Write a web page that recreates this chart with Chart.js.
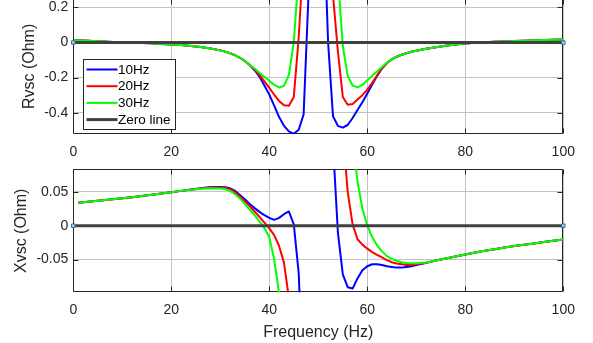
<!DOCTYPE html>
<html><head><meta charset="utf-8">
<script src="https://cdn.jsdelivr.net/npm/chart.js@4.4.1/dist/chart.umd.min.js"></script>
<style>
html,body{margin:0;padding:0;background:#fff;width:593px;height:343px;overflow:hidden;position:relative}
#c1{position:absolute;left:0;top:-10px;width:593px;height:175px}
#c2{position:absolute;left:0;top:160px;width:593px;height:183px}
</style></head><body>
<canvas id="c1" width="593" height="175"></canvas>
<canvas id="c2" width="593" height="183"></canvas>
<script>
// ---------- data ----------
const xTicks = [0, 20, 40, 60, 80, 100];
const rTicks = [-0.4, -0.2, 0, 0.2];
const rTickLabels = ['-0.4', '-0.2', '0', '0.2'];
const xvTicks = [-0.05, 0, 0.05];
const xvTickLabels = ['-0.05', '0', '0.05'];
const seriesNames = ['10Hz', '20Hz', '30Hz'];
const zeroName = 'Zero line';

const freqR = [0,2,4,6,8,10,12,14,16,18,20,22,24,26,28,30,
  31,32,33,34,35,36,37,38,39,40,41,42,43,44,45,46,47,48,49,50,
  51,52,53,54,55,56,57,58,59,60,61,62,63,64,65,66,67,68,69,
  70,72,74,76,78,80,82,84,86,88,90,92,94,96,98,100];

const rvsc10 = [0.013,0.011,0.009,0.006,0.003,0.001,-0.001,-0.003,-0.005,-0.008,-0.011,-0.015,-0.020,-0.026,-0.034,-0.045,
  -0.052,-0.061,-0.072,-0.087,-0.105,-0.128,-0.158,-0.195,-0.245,-0.297,-0.36,-0.425,-0.475,-0.506,-0.52,-0.497,-0.41,0.27,2.0,3.0,
  0.8,0.0,-0.42,-0.475,-0.485,-0.47,-0.43,-0.385,-0.34,-0.29,-0.24,-0.19,-0.148,-0.117,-0.096,-0.081,-0.07,-0.061,-0.053,
  -0.047,-0.036,-0.027,-0.019,-0.012,-0.006,-0.002,0.001,0.004,0.006,0.008,0.010,0.012,0.014,0.015,0.017];

const rvsc20 = [0.013,0.011,0.009,0.006,0.003,0.001,-0.001,-0.003,-0.005,-0.008,-0.011,-0.015,-0.020,-0.026,-0.034,-0.045,
  -0.052,-0.061,-0.072,-0.087,-0.105,-0.128,-0.153,-0.185,-0.222,-0.258,-0.298,-0.333,-0.357,-0.36,-0.31,0.03,0.5,1.5,2.5,2.8,
  2.0,1.0,0.27,-0.05,-0.31,-0.355,-0.35,-0.325,-0.30,-0.268,-0.23,-0.188,-0.147,-0.117,-0.096,-0.081,-0.07,-0.061,-0.053,
  -0.047,-0.036,-0.027,-0.019,-0.012,-0.006,-0.002,0.001,0.004,0.006,0.008,0.010,0.012,0.014,0.015,0.017];

const rvsc30 = [0.013,0.011,0.009,0.006,0.003,0.001,-0.001,-0.003,-0.005,-0.008,-0.011,-0.015,-0.020,-0.026,-0.034,-0.045,
  -0.052,-0.061,-0.072,-0.087,-0.105,-0.128,-0.148,-0.172,-0.196,-0.218,-0.242,-0.256,-0.247,-0.185,0.0,0.4,1.2,2.0,2.5,2.6,
  2.2,1.6,1.0,0.38,-0.02,-0.19,-0.245,-0.256,-0.242,-0.215,-0.19,-0.165,-0.14,-0.115,-0.096,-0.081,-0.07,-0.061,-0.053,
  -0.047,-0.036,-0.027,-0.019,-0.012,-0.006,-0.002,0.001,0.004,0.006,0.008,0.010,0.012,0.014,0.015,0.017];

const freqX = [1,2,4,6,8,10,12,14,16,18,20,22,24,26,28,30,
  31,32,33,34,35,36,37,38,39,40,41,42,43,44,45,46,47,48,49,50,
  51,52,53,54,55,56,57,58,59,60,61,62,63,64,65,66,67,68,69,
  70,72,74,76,78,80,82,84,86,88,90,92,94,96,98,100];

const xvsc10 = [0.034,0.0347,0.036,0.0375,0.039,0.0405,0.042,0.0438,0.0456,0.0475,0.0495,0.0515,0.0535,0.0555,0.0572,0.0572,
  0.0568,0.0553,0.0515,0.0455,0.039,0.032,0.026,0.0205,0.0155,0.0115,0.0087,0.0115,0.017,0.021,0.002,-0.07,-0.25,null,null,null,
  null,0.3,0.12,-0.01,-0.072,-0.091,-0.093,-0.078,-0.066,-0.06,-0.057,-0.057,-0.058,-0.06,-0.061,-0.062,-0.062,-0.061,-0.06,
  -0.058,-0.055,-0.0515,-0.0485,-0.0455,-0.0425,-0.0398,-0.0372,-0.0347,-0.0323,-0.030,-0.0281,-0.0262,-0.0242,-0.0222,-0.0203];

const xvsc20 = [0.034,0.0347,0.036,0.0375,0.039,0.0405,0.042,0.0438,0.0456,0.0475,0.0495,0.0515,0.0533,0.055,0.0565,0.0563,
  0.0557,0.054,0.0495,0.0432,0.0362,0.029,0.021,0.013,0.0045,-0.004,-0.014,-0.030,-0.055,-0.107,-0.2,-0.5,null,null,null,null,
  null,null,0.6,0.3,0.14,0.05,0.002,-0.02,-0.028,-0.034,-0.039,-0.043,-0.047,-0.051,-0.054,-0.056,-0.057,-0.058,-0.058,
  -0.057,-0.055,-0.0515,-0.0485,-0.0455,-0.0425,-0.0398,-0.0372,-0.0347,-0.0323,-0.030,-0.0281,-0.0262,-0.0242,-0.0222,-0.0203];

const xvsc30 = [0.034,0.0347,0.036,0.0375,0.039,0.0405,0.042,0.0438,0.0456,0.0475,0.0495,0.0515,0.053,0.0545,0.0553,0.055,
  0.0541,0.0515,0.0465,0.0403,0.0322,0.024,0.0155,0.0065,-0.0035,-0.017,-0.05,-0.1,-0.2,-0.45,null,null,null,null,null,null,
  null,null,null,null,0.6,0.28,0.13,0.065,0.025,0.0,-0.017,-0.029,-0.038,-0.045,-0.049,-0.052,-0.054,-0.055,-0.0555,
  -0.0555,-0.0545,-0.0515,-0.0485,-0.0455,-0.0425,-0.0398,-0.0372,-0.0347,-0.0323,-0.030,-0.0281,-0.0262,-0.0242,-0.0222,-0.0203];

const zeroF = [0, 100];
const zeroV = [0, 0];

// ---------- styling ----------
const FONT = "'Liberation Sans', Arial, Helvetica, sans-serif";
const AX = '#262626';
const GRID = '#c4c4c4';
const COLORS = ['#0000ff', '#ff0000', '#00ff00'];

const pts = (fs, ys) => fs.map((f, i) => ({x: f, y: ys[i]}));

function buildDatasets(fs, seriesList) {
  const ds = seriesList.map((ys, i) => ({
    label: seriesNames[i], data: pts(fs, ys), borderColor: COLORS[i], backgroundColor: COLORS[i],
    borderWidth: 2, pointRadius: 0, order: 3 - i, inLegend: true, spanGaps: false
  }));
  ds.push({label: zeroName, data: pts(zeroF, zeroV), borderColor: '#404040', backgroundColor: '#404040',
    borderWidth: 3, pointRadius: 0, order: 0, inLegend: true});
  ds.push({label: 'tips', data: pts(zeroF, zeroV), showLine: false, pointStyle: 'rect', pointRadius: 2.5,
    pointBackgroundColor: '#a9cbe8', pointBorderColor: '#2f6ea8', pointBorderWidth: 1, order: -1, clip: false});
  return ds;
}

const framePlugin = {
  id: 'frame',
  beforeDatasetsDraw(chart) {
    const {ctx, chartArea: a, scales} = chart;
    ctx.save();
    ctx.strokeStyle = AX; ctx.lineWidth = 1;
    const L = Math.round(a.left) + 0.5, R = Math.round(a.right) - 0.5;
    const T = Math.round(a.top) + 0.5, B = Math.round(a.bottom) - 0.5;
    ctx.beginPath();
    ctx.rect(L, T, R - L, B - T);
    scales.x.ticks.forEach(t => {
      const p = Math.round(scales.x.getPixelForValue(t.value)) + 0.5;
      ctx.moveTo(p, B); ctx.lineTo(p, B - 5);
      ctx.moveTo(p, T); ctx.lineTo(p, T + 5);
    });
    scales.y.ticks.forEach(t => {
      const p = Math.round(scales.y.getPixelForValue(t.value)) + 0.5;
      ctx.moveTo(L, p); ctx.lineTo(L + 5, p);
      ctx.moveTo(R, p); ctx.lineTo(R - 5, p);
    });
    ctx.stroke();
    ctx.restore();
  }
};

const legendPlugin = {
  id: 'boxLegend',
  afterDraw(chart, args, opts) {
    if (!opts || !opts.show) return;
    const {ctx, chartArea: a} = chart;
    const L = Math.round(a.left + 9.4), T = Math.round(a.top + 60.4), W = 92, H = 70;
    ctx.save();
    ctx.fillStyle = '#fff'; ctx.fillRect(L, T, W, H);
    ctx.strokeStyle = AX; ctx.lineWidth = 1;
    ctx.strokeRect(L + 0.5, T + 0.5, W, H);
    const items = chart.data.datasets.filter(d => d.inLegend);
    items.forEach((d, i) => {
      const y = T + 10.5 + i * 16.7;
      ctx.strokeStyle = d.borderColor; ctx.lineWidth = d.borderWidth;
      ctx.beginPath(); ctx.moveTo(L + 3.5, y); ctx.lineTo(L + 34.5, y); ctx.stroke();
      ctx.fillStyle = '#000'; ctx.font = '13.5px ' + FONT; ctx.textBaseline = 'middle'; ctx.textAlign = 'left';
      ctx.fillText(d.label, L + 35, y + 0.5);
    });
    ctx.restore();
  }
};

function noPad(s) { s.paddingTop = 0; s.paddingBottom = 0; s.paddingLeft = 0; s.paddingRight = 0; }

function makeChart(id, cfg) {
  return new Chart(document.getElementById(id), {
    type: 'line',
    data: {datasets: buildDatasets(cfg.freq, cfg.series)},
    options: {
      responsive: false, animation: false, devicePixelRatio: 1,
      layout: {padding: {left: 0, right: 29.7, top: cfg.padTop, bottom: 0}},
      elements: {line: {tension: 0, borderJoinStyle: 'round', borderCapStyle: 'butt'}},
      plugins: {legend: {display: false}, tooltip: {enabled: false}, boxLegend: {show: cfg.legend}},
      scales: {
        x: {
          type: 'linear', min: 0, max: 100,
          afterBuildTicks: s => { s.ticks = xTicks.map(v => ({value: v})); },
          afterFit: s => { s.height = cfg.xHeight; noPad(s); },
          grid: {color: GRID, lineWidth: 1, drawTicks: false},
          border: {display: false},
          ticks: {padding: 9.3, font: {family: FONT, size: 14}, color: AX, maxRotation: 0, autoSkip: false,
            callback: (v) => String(v)},
          title: cfg.xTitle ? {display: true, text: cfg.xTitle, font: {family: FONT, size: 16}, color: AX,
            padding: {top: 0, bottom: cfg.xTitlePad}} : {display: false}
        },
        y: {
          type: 'linear', min: cfg.ymin, max: cfg.ymax,
          afterBuildTicks: s => { s.ticks = cfg.yTicks.map(v => ({value: v})); },
          afterFit: s => { s.width = 73.3; noPad(s); },
          grid: {color: GRID, lineWidth: 1, drawTicks: false},
          border: {display: false},
          ticks: {padding: 5, font: {family: FONT, size: 14}, color: AX, autoSkip: false,
            callback: (v, i) => cfg.yLabels[i]},
          title: {display: true, text: cfg.yTitle, font: {family: FONT, size: 16}, color: AX,
            padding: {top: cfg.yTitlePad, bottom: 0}}
        }
      }
    },
    plugins: [framePlugin, legendPlugin]
  });
}

makeChart('c1', {
  freq: freqR, series: [rvsc10, rvsc20, rvsc30],
  ymin: -0.523, ymax: 0.25, yTicks: rTicks, yLabels: rTickLabels,
  yTitle: 'Rvsc (Ohm)', yTitlePad: 20, padTop: 8.6, xHeight: 30.7, legend: true
});

makeChart('c2', {
  freq: freqX, series: [xvsc10, xvsc20, xvsc30],
  ymin: -0.0985, ymax: 0.0834, yTicks: xvTicks, yLabels: xvTickLabels,
  yTitle: 'Xvsc (Ohm)', yTitlePad: 12, padTop: 9.3, xHeight: 50.7, legend: false,
  xTitle: 'Frequency (Hz)', xTitlePad: 0.6
});
</script>
</body></html>
